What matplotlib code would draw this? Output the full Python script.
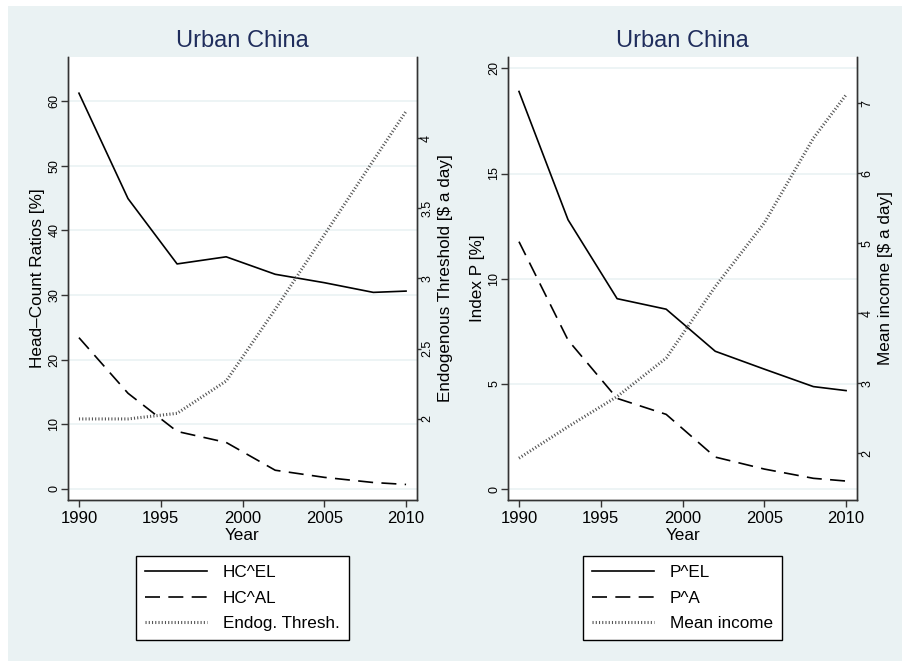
import numpy as np
import matplotlib
matplotlib.use('Agg')
import matplotlib.pyplot as plt
from matplotlib.patches import Rectangle

plt.rcParams['font.family'] = ['Liberation Sans', 'DejaVu Sans']

# data
years = [1990, 1993, 1996, 1999, 2002, 2005, 2008, 2010]

hc_el = [61.2, 44.9, 34.8, 35.9, 33.2, 31.9, 30.4, 30.6]
hc_al = [23.4, 14.8, 8.9, 7.2, 2.9, 1.8, 1.0, 0.7]
endog_thresh = [2.0, 2.0, 2.04, 2.27, 2.78, 3.31, 3.84, 4.19]

p_el = [18.9, 12.8, 9.05, 8.55, 6.55, 5.7, 4.87, 4.68]
p_a = [11.76, 7.08, 4.31, 3.55, 1.52, 0.95, 0.51, 0.38]
mean_income = [1.93, 2.38, 2.81, 3.36, 4.38, 5.29, 6.5, 7.12]

x_ticks = [1990, 1995, 2000, 2005, 2010]

bg = '#EAF2F3'
navy = '#1f2d5c'
spine_col = '#333333'
dash = (0, (9, 5))
dot = (0, (0.36, 0.7))

fig = plt.figure(figsize=(9.03, 6.61), dpi=100, facecolor='white')
fig.patches.append(Rectangle((8 / 903, 0), 1, 1 - 6 / 661, transform=fig.transFigure,
                             facecolor=bg, edgecolor='none', zorder=-10))


def make_panel(left, y1, y2, labels, ylab1, ylab2, ylim1, ylim2, yt1, yt2, yt2_lab, lx1, lx2):
    ax = fig.add_axes([left, 0.2436, 0.3865, 0.6702])
    ax.set_facecolor('white')
    ax2 = ax.twinx()

    l1, = ax.plot(years, y1[0], color='black', lw=1.2, label=labels[0])
    l2, = ax.plot(years, y1[1], color='black', lw=1.2, linestyle=dash, label=labels[1])
    l3, = ax2.plot(years, y2, color='#555555', lw=2.2, linestyle=dot,
                   dash_capstyle='butt', label=labels[2])

    ax.set_xlim(1989.33, 2010.67)
    ax.set_ylim(*ylim1)
    ax2.set_ylim(*ylim2)
    ax.set_xticks(x_ticks)
    ax.set_yticks(yt1)
    ax2.set_yticks(yt2)
    ax2.set_yticklabels(yt2_lab)

    ax.grid(axis='y', color=bg, lw=1.2)
    ax.set_axisbelow(True)

    for a in (ax, ax2):
        a.spines['top'].set_visible(False)
        for s in a.spines.values():
            s.set_color(spine_col)
            s.set_linewidth(1.0)
    ax.tick_params(axis='x', length=5, width=1, color=spine_col, labelsize=12, pad=3)
    ax.tick_params(axis='y', length=5, width=1, color=spine_col, labelsize=9,
                   labelrotation=90, pad=0.5)
    ax2.tick_params(axis='y', length=3, width=1, color=spine_col, labelsize=9,
                    labelrotation=90, pad=0)
    for t in ax.get_yticklabels() + ax2.get_yticklabels():
        t.set_verticalalignment('center')

    ax.set_xlabel('Year', fontsize=12.3, labelpad=1.5)
    ax.set_ylabel(ylab1, fontsize=12.3)
    ax2.set_ylabel(ylab2, fontsize=12.3, rotation=90)
    ax.yaxis.set_label_coords(lx1, 0.5)
    ax2.yaxis.set_label_coords(lx2, 0.5)
    ax.yaxis.label.set_verticalalignment('center')
    ax2.yaxis.label.set_verticalalignment('center')
    ax.set_title('Urban China', fontsize=17, color=navy, pad=7)

    cx = left + 0.3865 / 2
    leg = fig.legend(handles=[l1, l2, l3], loc='upper center',
                     bbox_to_anchor=(cx, 1 - 556 / 661), bbox_transform=fig.transFigure,
                     fontsize=12.3, frameon=True, fancybox=False, framealpha=1,
                     edgecolor='black', handlelength=3.6, handletextpad=0.95,
                     labelspacing=0.6, borderpad=0.55, borderaxespad=0)
    leg.get_frame().set_linewidth(1.0)
    return ax, ax2


make_panel(0.0753, [hc_el, hc_al], endog_thresh, ['HC^EL', 'HC^AL', 'Endog. Thresh.'],
           'Head\u2013Count Ratios [%]', 'Endogenous Threshold [$ a day]',
           (-1.7, 66.8), (1.423, 4.577), [0, 10, 20, 30, 40, 50, 60],
           [2, 2.5, 3, 3.5, 4], ['2', '2.5', '3', '3.5', '4'], -0.088, 1.082)

make_panel(0.5626, [p_el, p_a], mean_income, ['P^EL', 'P^A', 'Mean income'],
           'Index P [%]', 'Mean income [$ a day]',
           (-0.52, 20.54), (1.333, 7.66), [0, 5, 10, 15, 20],
           [2, 3, 4, 5, 6, 7], ['2', '3', '4', '5', '6', '7'], -0.088, 1.082)

plt.savefig('out.png', dpi=100, facecolor='white')
